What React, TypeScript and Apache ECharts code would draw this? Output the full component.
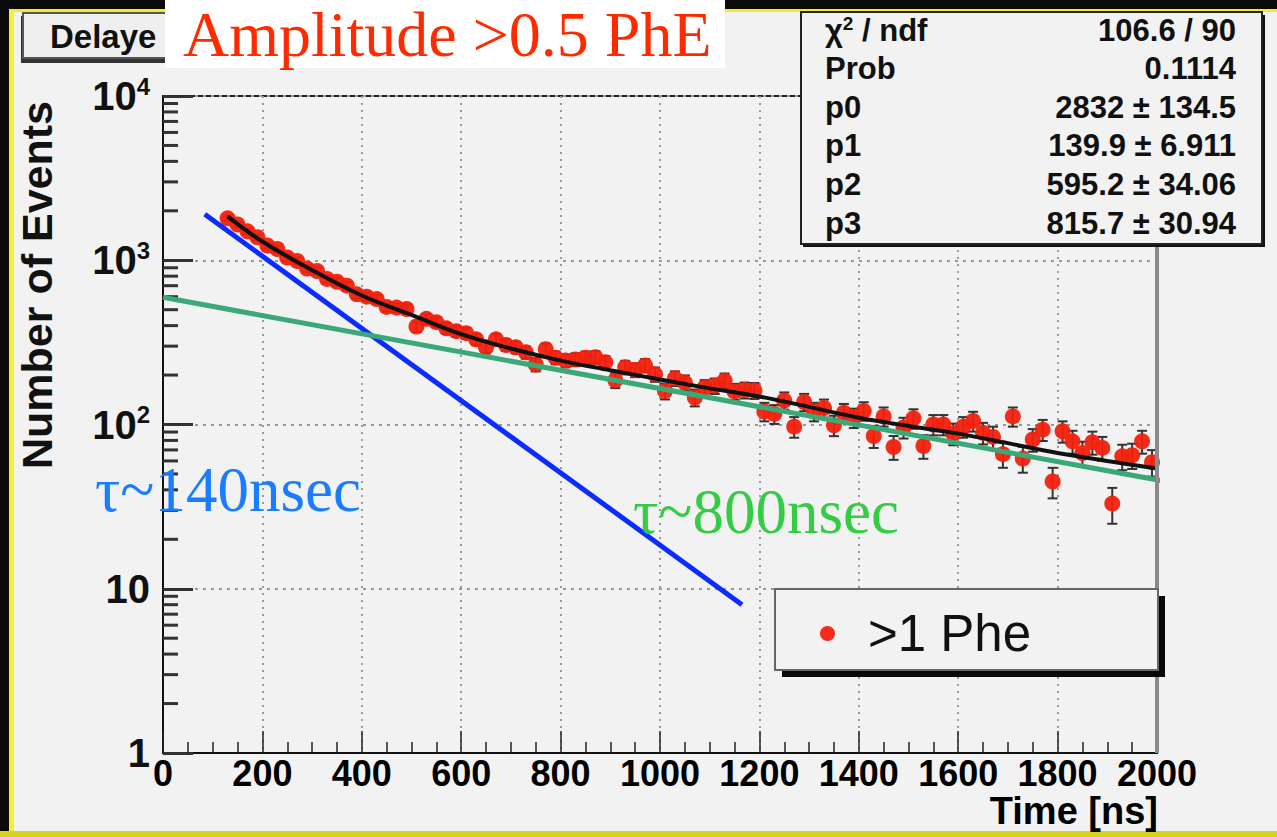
import React, { useEffect, useRef } from "react";
import * as echarts from "echarts";

// ---- data ----
const binStart = 130; // ns, centre of first bin
const binWidth = 20; // ns
const counts = [
  1800, 1650, 1500, 1380, 1230, 1170, 1040, 990, 890, 860,
  770, 740, 700, 620, 600, 580, 520, 515, 505, 395,
  440, 420, 385, 370, 360, 330, 295, 330, 305, 295,
  275, 232, 287, 255, 245, 249, 255, 257, 239, 186,
  223, 215, 229, 202, 160, 191, 180, 146, 168, 172,
  185, 159, 162, 161, 120, 116, 140, 97, 137, 120,
  126, 99, 118, 110, 121, 85, 112, 73, 96, 109,
  74, 100, 100, 88, 97, 105, 89, 84, 66, 112,
  62, 81, 93, 45, 91, 79, 67, 78, 72, 33,
  64, 65, 79, 59,
];
const fitT = [130, 200, 300, 400, 500, 600, 700, 800, 900, 1000, 1100, 1200, 1300, 1400, 1500, 1600, 1700, 1800, 1900, 2000];
const fitV = [1850, 1300, 870, 610, 465, 355, 290, 245, 214, 188, 166, 148, 128, 110, 98, 88, 77, 67, 60, 54];
const blueLine = [[84, 1906], [1165, 8]];
const greenLine = [[0, 595], [2030, 44.3]];
const yMinorTicks = [
  2, 3, 4, 5, 6, 7, 8, 9,
  20, 30, 40, 50, 60, 70, 80, 90,
  200, 300, 400, 500, 600, 700, 800, 900,
  2000, 3000, 4000, 5000, 6000, 7000, 8000, 9000,
];
const statsRows = [
  ["", "106.6 / 90"],
  ["Prob", "0.1114"],
  ["p0", "2832 \u00b1 134.5"],
  ["p1", "139.9 \u00b1 6.911"],
  ["p2", "595.2 \u00b1 34.06"],
  ["p3", "815.7 \u00b1 30.94"],
];
const seriesName = ">1 Phe";
const xTitle = "Time [ns]";
const yTitle = "Number of Events";

const SANS = "'Liberation Sans', Arial, Helvetica, sans-serif";
const SERIF = "'Liberation Serif', 'Times New Roman', serif";

export default function App() {
  const ref = useRef<HTMLDivElement>(null);
  useEffect(() => {
    document.body.style.margin = "0";
    const chart = echarts.init(ref.current!, null, { renderer: "svg" });

    const points = counts.map((v, i) => [binStart + i * binWidth, v]);
    const errs = counts.map((v, i) => {
      const e = Math.sqrt(2 * v);
      return [binStart + i * binWidth, v - e, v + e];
    });

    const statsGraphics: any[] = [];
    statsRows.forEach((r, i) => {
      const y = 30 + i * 38.6;
      if (i === 0) {
        statsGraphics.push({
          type: "text", z: 12, x: 825, y,
          style: {
            text: "{a|\u03c7}{s|2}{a| / ndf}",
            verticalAlign: "middle",
            rich: {
              a: { fontFamily: SANS, fontWeight: "bold", fontSize: 31, fill: "#111", lineHeight: 32 },
              s: { fontFamily: SANS, fontWeight: "bold", fontSize: 19, fill: "#111", verticalAlign: "top" },
            },
          },
        });
      } else {
        statsGraphics.push({
          type: "text", z: 12, x: 825, y,
          style: { text: r[0], fontFamily: SANS, fontWeight: "bold", fontSize: 31, fill: "#111", verticalAlign: "middle" },
        });
      }
      statsGraphics.push({
        type: "text", z: 12, x: 1236, y,
        style: { text: r[1], fontFamily: SANS, fontWeight: "bold", fontSize: 31, fill: "#111", align: "right", verticalAlign: "middle" },
      });
    });

    const option: any = {
      animation: false,
      backgroundColor: "#f2f2f2",
      grid: {
        left: 163, top: 96, width: 994, height: 657,
        containLabel: false, outerBoundsMode: "none",
        show: true, borderColor: "#222", borderWidth: 2, backgroundColor: "transparent",
      },
      legend: {
        data: [seriesName],
        left: 815,
        top: 603,
        icon: "circle",
        itemWidth: 15,
        itemHeight: 15,
        z: 11,
        textStyle: { fontFamily: SANS, fontSize: 51, color: "#111", padding: [0, 0, 0, 28] },
      },
      xAxis: {
        type: "value",
        min: 0,
        max: 2000,
        interval: 200,
        axisLine: { show: true, onZero: false, lineStyle: { color: "#111", width: 2 } },
        axisTick: { show: true, inside: true, length: 22, lineStyle: { color: "#222", width: 1.5 } },
        minorTick: { show: true, splitNumber: 4, length: 11, lineStyle: { color: "#222", width: 1.5 } },
        axisLabel: { fontFamily: SANS, fontWeight: "bold", fontSize: 36, lineHeight: 30, color: "#000", margin: 5, formatter: (v: number) => String(v) },
        splitLine: { show: true, lineStyle: { color: "#999", type: [2, 5], width: 2 } },
      },
      yAxis: {
        type: "log",
        logBase: 10,
        min: 1,
        max: 10000,
        axisLine: { show: true, lineStyle: { color: "#111", width: 2 } },
        axisTick: { show: true, inside: true, length: 30, lineStyle: { color: "#333", width: 3 } },
        axisLabel: {
          margin: 13,
          formatter: (v: number) => {
            if (v === 1) return "{b|1}";
            if (v === 10) return "{b|10}";
            return "{b|10}{s|" + Math.round(Math.log10(v)) + "}";
          },
          rich: {
            b: { fontFamily: SANS, fontWeight: "bold", fontSize: 40, color: "#111", lineHeight: 44 },
            s: { fontFamily: SANS, fontWeight: "bold", fontSize: 24, color: "#111", verticalAlign: "top" },
          },
        },
        splitLine: { show: true, lineStyle: { color: "#999", type: [3, 5], width: 2 } },
      },
      series: [
        {
          type: "custom",
          name: "yminor",
          silent: true,
          z: 3,
          data: yMinorTicks.map((v) => [0, v]),
          renderItem: (params: any, api: any) => {
            const p = api.coord([0, api.value(1)]);
            return {
              type: "line",
              shape: { x1: p[0], y1: p[1], x2: p[0] + 15, y2: p[1] },
              style: { stroke: "#333", lineWidth: 3 },
            };
          },
          clip: false,
        },
        {
          type: "custom",
          name: "errors",
          silent: true,
          z: 4,
          data: errs,
          encode: { x: 0, y: [1, 2] },
          renderItem: (params: any, api: any) => {
            const t = api.value(0);
            const lo = api.coord([t, api.value(1)]);
            const hi = api.coord([t, api.value(2)]);
            const st = { stroke: "#333", lineWidth: 2 };
            return {
              type: "group",
              children: [
                { type: "line", shape: { x1: lo[0], y1: lo[1], x2: hi[0], y2: hi[1] }, style: st },
                { type: "line", shape: { x1: lo[0] - 5, y1: lo[1], x2: lo[0] + 5, y2: lo[1] }, style: st },
                { type: "line", shape: { x1: hi[0] - 5, y1: hi[1], x2: hi[0] + 5, y2: hi[1] }, style: st },
              ],
            };
          },
        },
        {
          type: "scatter",
          name: seriesName,
          z: 5,
          symbol: "circle",
          symbolSize: 16,
          itemStyle: { color: "#f2200c", opacity: 0.95 },
          data: points,
        },
        {
          type: "line",
          name: "fit",
          z: 6,
          smooth: 0.4,
          showSymbol: false,
          symbol: "none",
          lineStyle: { color: "#111", width: 4 },
          data: fitT.map((t, i) => [t, fitV[i]]),
        },
        {
          type: "line",
          name: "tau140",
          z: 8,
          clip: false,
          showSymbol: false,
          symbol: "none",
          lineStyle: { color: "#0a2cff", width: 5 },
          data: blueLine,
        },
        {
          type: "line",
          name: "tau800",
          z: 8,
          clip: false,
          showSymbol: false,
          symbol: "none",
          lineStyle: { color: "#3aa877", width: 5 },
          data: greenLine,
        },
      ],
      graphic: [
        // outer frame strips
        { type: "rect", z: 1, shape: { x: 0, y: 0, width: 1277, height: 9 }, style: { fill: "#0b0b0b" } },
        { type: "rect", z: 1, shape: { x: 0, y: 0, width: 9, height: 837 }, style: { fill: "#0b0b0b" } },
        { type: "rect", z: 1, shape: { x: 9, y: 9, width: 1268, height: 3 }, style: { fill: "#f2ec2a" } },
        { type: "rect", z: 1, shape: { x: 9, y: 9, width: 5, height: 828 }, style: { fill: "#f5f02a" } },
        { type: "rect", z: 1, shape: { x: 0, y: 831, width: 1277, height: 6 }, style: { fill: "#d6d41e" } },
        // right frame edge (grey)
        { type: "rect", z: 9, shape: { x: 1155, y: 96, width: 4, height: 657 }, style: { fill: "#8a8a8a" } },
        // axis titles
        {
          type: "text", z: 10, x: 37, y: 285, rotation: Math.PI / 2,
          style: { text: yTitle, fontFamily: SANS, fontWeight: "bold", fontSize: 43, fill: "#111", align: "center", verticalAlign: "middle" },
        },
        {
          type: "text", z: 10, x: 1158, y: 811,
          style: { text: xTitle, fontFamily: SANS, fontWeight: "bold", fontSize: 38, fill: "#000", align: "right", verticalAlign: "middle" },
        },
        // title pave (partly covered)
        { type: "rect", z: 10, shape: { x: 21, y: 16, width: 190, height: 47 }, style: { fill: "#333" } },
        { type: "rect", z: 10, shape: { x: 23, y: 13, width: 186, height: 45 }, style: { fill: "#efefef", stroke: "#555", lineWidth: 2 } },
        { type: "text", z: 10, x: 50, y: 36, style: { text: "Delaye", fontFamily: SANS, fontWeight: "bold", fontSize: 33, fill: "#111", verticalAlign: "middle" } },
        // overlay label
        { type: "rect", z: 11, shape: { x: 165, y: 0, width: 560, height: 68 }, style: { fill: "#ffffff" } },
        { type: "text", z: 12, x: 183, y: 34, style: { text: "Amplitude >0.5 PhE", fontFamily: SERIF, fontSize: 64, fill: "#ff2a00", verticalAlign: "middle" } },
        // stats box
        { type: "rect", z: 11, shape: { x: 803, y: 15, width: 462, height: 232 }, style: { fill: "#111" } },
        { type: "rect", z: 11, shape: { x: 801, y: 12, width: 461, height: 232 }, style: { fill: "#f2f2f2", stroke: "#222", lineWidth: 2 } },
        ...statsGraphics,
        // legend box
        { type: "rect", z: 10, shape: { x: 782, y: 596, width: 383, height: 81 }, style: { fill: "#080808" } },
        { type: "rect", z: 10, shape: { x: 775, y: 589, width: 383, height: 81 }, style: { fill: "#f2f2f2", stroke: "#666", lineWidth: 2 } },
        // annotations
        { type: "text", z: 20, x: 95, y: 490, style: { text: "\u03c4~140nsec", fontFamily: SERIF, fontSize: 63, fill: "#1a7cff", verticalAlign: "middle" } },
        { type: "text", z: 20, x: 633, y: 512, style: { text: "\u03c4~800nsec", fontFamily: SERIF, fontSize: 63, fill: "#33cc44", verticalAlign: "middle" } },
      ],
    };
    chart.setOption(option);
    return () => chart.dispose();
  }, []);
  return <div ref={ref} style={{ width: 1277, height: 837 }} />;
}
